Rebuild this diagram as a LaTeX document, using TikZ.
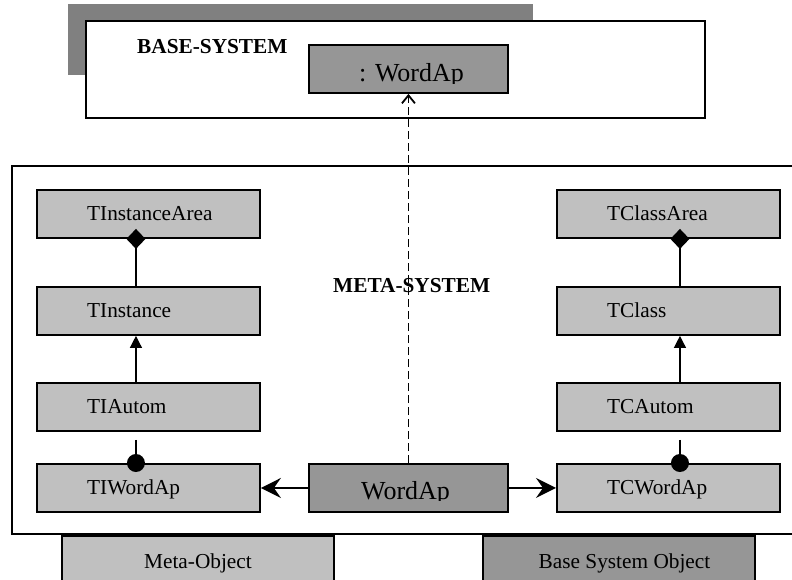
\documentclass[tikz,border=0pt]{standalone}
\usepackage{fontspec}
\setmainfont{Liberation Serif}
\usetikzlibrary{arrows.meta}
\definecolor{lightobj}{HTML}{C0C0C0}
\definecolor{darkobj}{HTML}{969696}
\definecolor{shadowgray}{HTML}{808080}

\begin{document}
\begin{tikzpicture}[x=1pt,y=-1pt,
  objbox/.style={draw=black, line width=1.9pt, fill=lightobj, minimum width=223pt,
    minimum height=48pt, inner sep=0pt, anchor=north west},
  keybox/.style={draw=black, line width=1.9pt, fill=darkobj, minimum width=199pt,
    minimum height=48pt, inner sep=0pt, anchor=north west},
  lbl/.style={font=\fontsize{21.3}{24}\selectfont, inner sep=0pt, text height=14pt, text depth=0pt},
  ttl/.style={font=\fontsize{21.3}{24}\selectfont\bfseries, inner sep=0pt, text height=14pt, text depth=0pt},
  big/.style={font=\fontsize{26}{30}\selectfont, inner sep=0pt},
  conn/.style={line width=1.8pt},
  gen/.style={line width=1.3pt, -{Triangle[length=12pt,width=12pt]}},
  comp/.style={line width=1.8pt, {Diamond[length=20pt,width=19pt]}-, shorten <=-10pt},
  nav/.style={line width=1.8pt, -{Stealth[length=20pt,width=20pt,inset=7pt]}},
  dep/.style={line width=1.8pt, dash pattern=on 8pt off 4pt, -{Straight Barb[length=8pt,width=13pt,line width=1.8pt]}}
]
\useasboundingbox (0,0) rectangle (792,580);

% base system frame with its shade
\node[fill=shadowgray, minimum width=465pt, minimum height=71pt, inner sep=0pt, anchor=north west] (baseshade) at (68,4) {};
\node[draw, fill=white, line width=2pt, minimum width=619pt, minimum height=97pt, inner sep=0pt, anchor=north west] (base) at (85,20) {};
\node[ttl, anchor=west] (base-t) at (137,46.5) {BASE-SYSTEM};
\node[keybox] (bwa) at (308,44) {};
\begin{scope}
  \clip (308,44) rectangle (507,83.5);
  \node[big, anchor=base] (bwa-t) at (411.5,82) {: WordAp};
\end{scope}

% meta system frame
\node[draw, line width=2pt, minimum width=790pt, minimum height=368pt, inner sep=0pt, anchor=north west] (meta) at (11,165) {};
\node[ttl, anchor=west] (meta-t) at (333,285.5) {META-SYSTEM};

% instance side
\node[objbox] (tia) at (36,189) {};
\node[lbl, anchor=west] (tia-t) at ([xshift=51pt]tia.west) {TInstanceArea};
\node[objbox] (ti) at (36,286) {};
\node[lbl, anchor=west] (ti-t) at ([xshift=51pt]ti.west) {TInstance};
\node[objbox] (tiau) at (36,382) {};
\node[lbl, anchor=west] (tiau-t) at ([xshift=51pt]tiau.west) {TIAutom};
\node[objbox] (tiw) at (36,463) {};
\node[lbl, anchor=west] (tiw-t) at ([xshift=51pt]tiw.west) {TIWordAp};

% class side
\node[objbox] (tca) at (556,189) {};
\node[lbl, anchor=west] (tca-t) at ([xshift=51pt]tca.west) {TClassArea};
\node[objbox] (tc) at (556,286) {};
\node[lbl, anchor=west] (tc-t) at ([xshift=51pt]tc.west) {TClass};
\node[objbox] (tcau) at (556,382) {};
\node[lbl, anchor=west] (tcau-t) at ([xshift=51pt]tcau.west) {TCAutom};
\node[objbox] (tcw) at (556,463) {};
\node[lbl, anchor=west] (tcw-t) at ([xshift=51pt]tcw.west) {TCWordAp};

% the application object
\node[keybox] (wa) at (308,463) {};
\begin{scope}
  \clip (308,463) rectangle (507,500.5);
  \node[big, anchor=base] (wa-t) at (405.5,499) {WordAp};
\end{scope}

% connectors, instance side
\draw[comp] ([xshift=-12.5pt]tia.south) -- ([xshift=-12.5pt]ti.north);
\draw[gen] ([xshift=-12.5pt]tiau.north) -- ([xshift=-12.5pt]ti.south);
\draw[conn] ([xshift=-12.5pt,yshift=-8pt]tiau.south) -- ([xshift=-12.5pt]tiw.north);
\fill ([xshift=-12.5pt]tiw.north) circle (9pt);

% connectors, class side
\draw[comp] ([xshift=11.5pt]tca.south) -- ([xshift=11.5pt]tc.north);
\draw[gen] ([xshift=11.5pt]tcau.north) -- ([xshift=11.5pt]tc.south);
\draw[conn] ([xshift=11.5pt,yshift=-8pt]tcau.south) -- ([xshift=11.5pt]tcw.north);
\fill ([xshift=11.5pt]tcw.north) circle (9pt);

% links from the application object
\draw[nav] (wa.west) -- (tiw.east);
\draw[nav] (wa.east) -- (tcw.west);
\draw[dep] (wa.north) -- (bwa.south);

% key
\node[draw, line width=1.9pt, fill=lightobj, minimum width=272pt, minimum height=60pt, inner sep=0pt, anchor=north west] (keymeta) at (61,535) {};
\node[lbl, anchor=base] (keymeta-t) at (198,568) {Meta-Object};
\node[draw, line width=1.9pt, fill=darkobj, minimum width=272pt, minimum height=60pt, inner sep=0pt, anchor=north west] (keybase) at (482,535) {};
\node[lbl, anchor=base] (keybase-t) at (624.5,568) {Base System Object};
\end{tikzpicture}
\end{document}
